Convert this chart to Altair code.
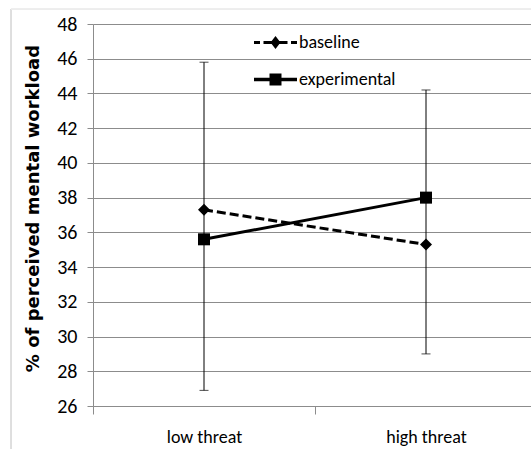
import altair as alt
import pandas as pd

# ---- data ----
categories = ["low threat", "high threat"]
series_names = ["baseline", "experimental"]
baseline = [37.3, 35.3]
experimental = [35.6, 38.0]
err_low = [26.9, 29.0]
err_high = [45.8, 44.2]
y_ticks = [26, 28, 30, 32, 34, 36, 38, 40, 42, 44, 46, 48]

rows = []
for name, vals in zip(series_names, [baseline, experimental]):
    for c, v in zip(categories, vals):
        rows.append({"category": c, "series": name, "value": v})
df = pd.DataFrame(rows)
err_df = pd.DataFrame({"category": categories, "low": err_low, "high": err_high})

FONT = "Carlito, Liberation Sans Narrow, Arial Narrow, DejaVu Sans Condensed, sans-serif"
GRID = "#8c8c8c"

# legend symbols (line + marker), unit coordinates
PATH_B = ("M-1.162,-0.081H-0.838V0.081H-1.162Z "
          "M-0.649,-0.081H-0.162V0.081H-0.649Z "
          "M0.162,-0.081H0.649V0.081H0.162Z "
          "M0.838,-0.081H1.162V0.081H0.838Z "
          "M0,-0.35L0.27,0L0,0.35L-0.27,0Z")
PATH_E = ("M-1.162,-0.095H1.162V0.095H-1.162Z "
          "M-0.324,-0.324H0.324V0.324H-0.324Z")

x_enc = alt.X(
    "category:N",
    sort=categories,
    scale=alt.Scale(type="band", domain=categories, range=[0, 444],
                    paddingInner=0, paddingOuter=0),
    axis=alt.Axis(title=None, tickBand="extent", tickSize=8, tickColor=GRID,
                  domainColor=GRID, grid=False, labelFont=FONT, labelFontSize=18,
                  labelColor="black", labelPadding=14, labelAngle=0),
)
y_scale = alt.Scale(domain=[26, 48], nice=False, zero=False)
y_axis = alt.Axis(
    title="% of perceived mental workload", values=y_ticks, tickCount=len(y_ticks),
    tickSize=6, tickColor=GRID, domainColor=GRID, gridColor=GRID, grid=True,
    labelOverlap=False,
    labelFont=FONT, labelFontSize=20, labelColor="black", labelPadding=10,
    titleFont="DejaVu Sans", titleFontSize=18, titleFontWeight="bold",
    titleColor="black", titleX=-60, titleY=184, titleAlign="center",
    titleBaseline="middle", titleAngle=270,
)


def y_of(field):
    return alt.Y(field, scale=y_scale, axis=y_axis)


err = alt.Chart(err_df).mark_rule(color="black", strokeWidth=1).encode(
    x=x_enc, y=y_of("low:Q"), y2="high:Q")
cap_lo = alt.Chart(err_df).mark_tick(color="black", size=9, thickness=1).encode(
    x=x_enc, y=y_of("low:Q"))
cap_hi = alt.Chart(err_df).mark_tick(color="black", size=9, thickness=1).encode(
    x=x_enc, y=y_of("high:Q"))

base = alt.Chart(df)
line_b = base.transform_filter(alt.datum.series == "baseline").mark_line(
    color="black", strokeWidth=3, strokeDash=[9, 4]).encode(x=x_enc, y=y_of("value:Q"))
line_e = base.transform_filter(alt.datum.series == "experimental").mark_line(
    color="black", strokeWidth=3).encode(x=x_enc, y=y_of("value:Q"))
diamonds = base.transform_filter(alt.datum.series == "baseline").mark_point(
    shape="diamond", filled=True, color="black", size=144, opacity=1).encode(
    x=x_enc, y=y_of("value:Q"))
squares = base.transform_filter(alt.datum.series == "experimental").mark_point(
    shape="square", filled=True, color="black", size=144, opacity=1).encode(
    x=x_enc, y=y_of("value:Q"))

legend_layer = base.mark_point(
    filled=True, color="black", size=1369, opacity=0).encode(
    x=x_enc, y=y_of("value:Q"),
    shape=alt.Shape("series:N",
                    scale=alt.Scale(domain=series_names, range=[PATH_B, PATH_E]),
                    legend=alt.Legend(title=None, orient="none", legendX=164, legendY=0,
                                      labelFont=FONT, labelFontSize=18, labelColor="black",
                                      symbolSize=1369, symbolFillColor="black",
                                      symbolStrokeWidth=0, symbolOpacity=1,
                                      rowPadding=9, labelOffset=5, padding=0)),
)

frame_left = alt.Chart(df).mark_rule(color="#dcdcdc").encode(
    x=alt.value(-82), y=alt.value(-15), y2=alt.value(425))
frame_top = alt.Chart(df).mark_rule(color="#ececec").encode(
    x=alt.value(-82), x2=alt.value(438), y=alt.value(-15))

chart = alt.layer(frame_left, frame_top, err, cap_lo, cap_hi, line_b, line_e,
                  diamonds, squares, legend_layer).properties(
    width=438, height=382,
    autosize=alt.AutoSizeParams(type="none"),
    padding={"left": 93, "top": 24, "right": 0, "bottom": 43},
).configure_view(stroke=None).configure(background="white")

chart.save("out.html", embed_options={"renderer": "svg", "actions": False})
